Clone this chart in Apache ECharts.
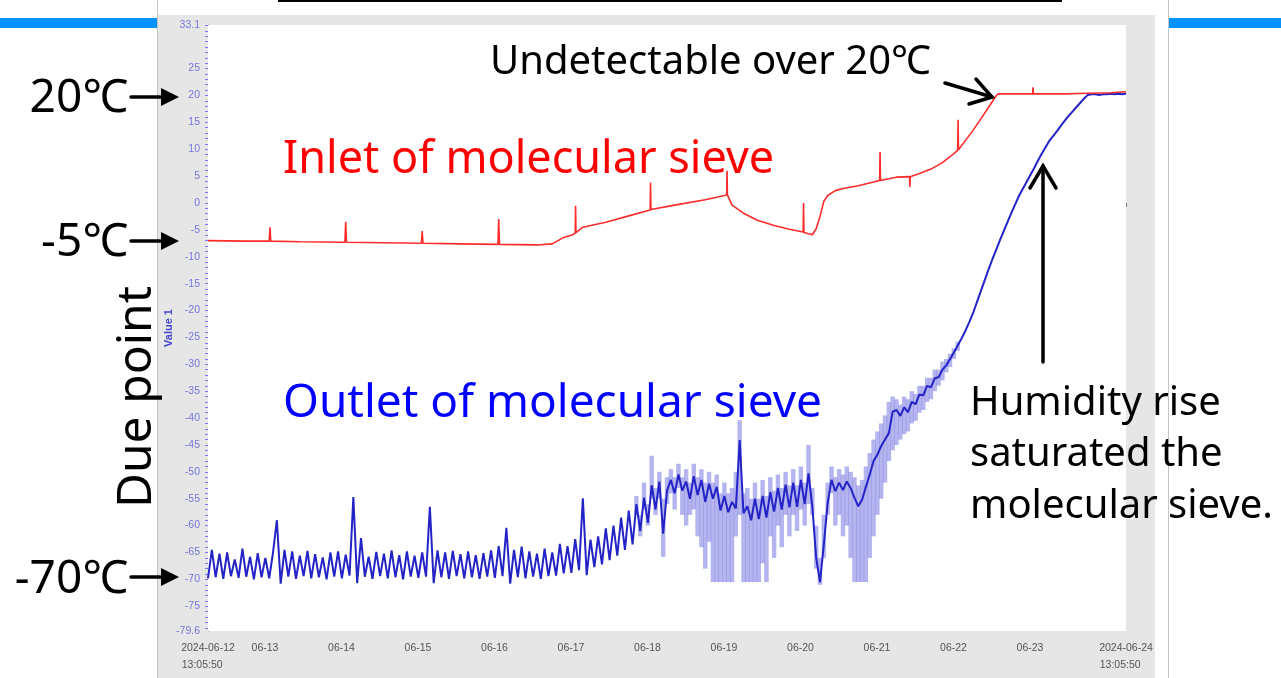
<!DOCTYPE html>
<html><head><meta charset="utf-8">
<script src="https://cdn.jsdelivr.net/npm/echarts@6.0.0/dist/echarts.min.js"></script>
<style>html,body{margin:0;padding:0;background:#fff;}#chart{width:1281px;height:678px;}</style>
</head><body><div id="chart"></div>
<script>
// ---- data (time in days since 2024-06-12 13:05:50) ----
const SAMPLE_STEP_DAYS = 0.05;
const outletValues = [
  -69.8, -64.5, -69.6, -65.2, -69.9, -65.0, -69.4, -66.3, -69.7, -64.3,
  -69.5, -65.8, -70.0, -65.1, -69.6, -66.0, -69.8, -65.0, -59.0, -70.8,
  -64.5, -69.5, -64.8, -69.9, -65.6, -69.4, -64.7, -69.8, -65.3, -69.6,
  -65.9, -70.0, -65.0, -69.5, -64.8, -69.8, -65.4, -69.3, -54.7, -70.7,
  -62.3, -69.5, -65.8, -69.9, -64.9, -69.4, -65.2, -69.8, -64.6, -69.6,
  -65.5, -70.0, -64.8, -69.5, -65.6, -69.7, -65.0, -69.5, -56.5, -70.7,
  -64.6, -69.6, -65.0, -69.9, -64.7, -69.4, -65.3, -69.8, -64.8, -69.6,
  -65.5, -69.9, -65.1, -69.5, -64.6, -69.7, -63.8, -69.4, -60.4, -70.8,
  -64.5, -69.6, -63.9, -69.8, -64.8, -69.5, -65.2, -69.9, -64.3, -69.4,
  -65.0, -69.3, -63.4, -68.9, -63.8, -68.8, -62.5, -68.3, -54.9, -69.2,
  -62.6, -67.7, -62.0, -67.2, -60.5, -66.4, -60.0, -65.6, -58.5, -64.5,
  -57.2, -63.5, -56.0, -61.0, -54.8, -59.5, -52.5, -57.0, -51.8, -61.5,
  -53.5, -51.5, -54.0, -50.5, -53.5, -51.8, -55.0, -50.8, -54.3, -51.5,
  -55.6, -52.2, -55.0, -52.8, -57.2, -54.5, -57.5, -55.6, -56.8, -44.1,
  -57.7, -56.4, -59.0, -55.0, -58.8, -54.5, -58.5, -53.8, -57.4, -53.0,
  -57.0, -52.4, -56.6, -52.0, -56.5, -51.5, -56.0, -50.3, -56.5, -66.0,
  -70.5, -63.5, -55.8, -51.5, -53.6, -52.0, -53.4, -51.8, -53.0, -54.8,
  -56.4, -55.2, -52.8, -50.5, -48.0, -46.8, -45.2, -44.0, -42.8, -38.8,
  -38.5, -39.6, -38.0, -38.9, -37.0, -37.4, -35.6, -35.8, -34.0, -34.3,
  -32.6, -32.4, -31.0, -30.2, -29.0, -27.8, -26.5, -25.2, -23.8, -22.2,
  -20.5, -18.5, -16.5, -14.5, -12.5, -10.6, -8.8, -7.0, -5.3, -3.6,
  -1.9, -0.3, 1.3, 2.6, 3.9, 5.2, 6.5, 7.9, 9.2, 10.4,
  11.6, 12.5, 13.4, 14.4, 15.3, 16.2, 17.0, 17.8, 18.6, 19.4,
  20.1, 20.2, 20.2, 20.1, 20.2, 20.2, 20.3, 20.2, 20.3, 20.2,
  20.3
];
const BAND_START_INDEX = 112;
const bandLow = [
  -58, -62, -57, -60, -55, -58, -55, -65.8, -56, -54,
  -57, -53, -58, -60, -58, -57, -62, -64, -68, -63,
  -70.5, -70.5, -70.5, -70.5, -70.5, -70.5, -62, -58, -70.5, -70.5,
  -70.5, -70.5, -70.5, -67, -70.5, -62, -66, -60, -64, -58,
  -62, -58, -61, -57, -60, -56, -58, -68, -71, -66,
  -58, -54, -60, -58, -62, -60, -66, -70.5, -70.5, -70.5,
  -70.5, -66, -62, -58, -55, -52, -48, -46, -45, -44,
  -43, -42.5, -41, -40.5, -39, -38.5, -37, -36.5, -35, -34,
  -33, -31.5, -30.5, -29, -27.5
];
const bandHigh = [
  -54.5, -58, -52, -56, -47, -53, -50, -55, -51, -49.5,
  -51, -48.5, -51, -49.5, -52, -48.5, -51, -49.5, -52, -50,
  -52, -50.5, -54, -52, -54, -53, -50, -40.4, -54, -53,
  -55, -52, -55, -51.5, -54.5, -51, -53.5, -50.5, -53, -50,
  -52.5, -49.5, -52.5, -49, -52, -45, -53, -60, -66, -58,
  -52, -49, -51, -49.5, -50.5, -49, -50, -51, -52.5, -51.5,
  -49, -46.5, -44, -42.5, -41, -39.5, -37, -36, -36.5, -37.5,
  -36, -36.5, -35, -35.5, -34, -34, -32.5, -32.5, -31, -31,
  -29.5, -29, -28, -27, -25.8
];
const inletPoints = [
  [0, -7.0], [0.5, -7.1], [0.80, -7.1], [0.81, -4.5], [0.82, -7.1],
  [1.2, -7.2], [1.79, -7.3], [1.80, -3.5], [1.81, -7.3],
  [2.3, -7.4], [2.79, -7.5], [2.80, -5.2], [2.81, -7.5],
  [3.3, -7.6], [3.79, -7.7], [3.80, -3.0], [3.81, -7.7],
  [4.3, -7.8], [4.5, -7.6], [4.65, -6.4], [4.77, -5.9], [4.80, -5.6], [4.805, -0.5], [4.81, -5.5],
  [4.9, -4.5], [5.2, -3.6], [5.5, -2.4], [5.78, -1.3], [5.785, 3.8], [5.79, -1.2],
  [6.1, -0.4], [6.5, 0.6], [6.78, 1.5], [6.785, 6.0], [6.79, 1.5],
  [6.85, -0.4], [7.0, -1.9], [7.18, -3.2], [7.4, -4.2], [7.6, -4.9], [7.78, -5.4], [7.785, 0.0], [7.79, -5.5],
  [7.9, -5.9], [7.95, -4.8], [8.0, -2.5], [8.05, 0.3], [8.1, 1.4], [8.2, 2.3], [8.3, 2.7],
  [8.5, 3.2], [8.7, 3.9], [8.78, 4.2], [8.785, 9.5], [8.79, 4.2], [8.9, 4.5], [9.0, 4.8],
  [9.17, 4.9], [9.175, 3.0], [9.18, 4.9], [9.3, 5.5], [9.45, 6.3], [9.6, 7.5], [9.7, 8.6],
  [9.8, 9.8], [9.805, 15.5], [9.81, 9.9], [9.9, 11.6], [10.0, 13.5], [10.1, 15.6], [10.2, 17.7],
  [10.3, 19.9], [10.33, 20.3], [10.5, 20.3], [10.78, 20.3], [10.785, 21.5], [10.79, 20.3],
  [11.2, 20.3], [11.5, 20.4], [11.8, 20.5], [12.0, 20.7]
];
const xLabelDays = [0, 0.745, 1.745, 2.745, 3.745, 4.745, 5.745, 6.745, 7.745, 8.745, 9.745, 10.745, 12];
const xLabelTexts = ['2024-06-12\n13:05:50    ', '06-13', '06-14', '06-15', '06-16', '06-17', '06-18',
  '06-19', '06-20', '06-21', '06-22', '06-23', '2024-06-24\n13:05:50    '];
const yLabelValues = [33.1, 25, 20, 15, 10, 5, 0, -5, -10, -15, -20, -25, -30, -35, -40, -45,
  -50, -55, -60, -65, -70, -75, -79.6];
const X_MIN = 0, X_MAX = 12, Y_MIN = -79.6, Y_MAX = 33.1;

// ---- build series data ----
const outletData = outletValues.map((v, i) => [+(i * SAMPLE_STEP_DAYS).toFixed(4), v]);
const bandData = bandLow.map((lo, k) => [+((BAND_START_INDEX + k) * SAMPLE_STEP_DAYS).toFixed(4), lo, bandHigh[k]]);

const yTicks = [];
for (let v = -79; v <= 33; v += 1) yTicks.push(v);
const xTicks = [0, 12];
for (let k = -6; k <= 110; k++) { const t = 0.745 + k / 9; if (t > 0.01 && t < 11.99) xTicks.push(+t.toFixed(4)); }

const chart = echarts.init(document.getElementById('chart'), null, {renderer: 'canvas'});
const FONT = '"Noto Sans", "DejaVu Sans", sans-serif';
const AXFONT = '"Liberation Sans", "DejaVu Sans", sans-serif';
const txt = (text, x, y, size, color, align, extra) => Object.assign({
  type: 'text', x: x, y: y, z: 100,
  style: {text: text, font: size + 'px ' + FONT, fill: color, align: align || 'left', verticalAlign: 'middle'}
}, extra || {});
const seg = (x1, y1, x2, y2) => ({type: 'line', z: 100, shape: {x1, y1, x2, y2}, style: {stroke: '#000', lineWidth: 3.5, lineCap: 'round'}});
const head = (pts) => ({type: 'polygon', z: 100, shape: {points: pts}, style: {fill: '#000'}});
const openHead = (pts) => ({type: 'polyline', z: 100, shape: {points: pts}, style: {stroke: '#000', lineWidth: 3.5, lineCap: 'round', lineJoin: 'miter', fill: null}});

chart.setOption({
  animation: false,
  backgroundColor: '#fff',
  grid: {left: 208, top: 25, right: 155, bottom: 47, show: true, backgroundColor: '#fff', borderWidth: 0, z: 1},
  xAxis: {
    type: 'value', min: X_MIN, max: X_MAX,
    splitLine: {show: false},
    axisLine: {lineStyle: {color: '#7a7a7a', width: 1}},
    axisTick: {customValues: xTicks, length: 4, lineStyle: {color: '#7a7a7a'}},
    axisLabel: {
      customValues: xLabelDays, margin: 9, color: '#555', fontSize: 10.5, lineHeight: 17,
      fontFamily: AXFONT,
      formatter: (val) => { const k = xLabelDays.findIndex(d => Math.abs(d - val) < 1e-4); return k >= 0 ? xLabelTexts[k] : ''; }
    }
  },
  yAxis: {
    type: 'value', min: Y_MIN, max: Y_MAX,
    name: 'Value 1', nameLocation: 'middle', nameGap: 34, nameMoveOverlap: false,
    nameTextStyle: {color: '#4646d2', fontSize: 11, fontWeight: 'bold', fontFamily: AXFONT},
    splitLine: {show: false},
    axisLine: {show: true, lineStyle: {color: '#6c6ce6', width: 1}},
    axisTick: {customValues: yTicks, length: 3, lineStyle: {color: '#7a7ae6'}},
    axisLabel: {
      customValues: yLabelValues, margin: 8, color: '#7676dc', fontSize: 10.5,
      fontFamily: AXFONT,
      formatter: (val) => Number.isInteger(val) ? String(val) : val.toFixed(1)
    }
  },
  series: [
    {
      type: 'custom', name: 'Outlet range', z: 2, clip: true,
      encode: {x: 0, y: [1, 2]},
      data: bandData,
      renderItem: (params, api) => {
        const x = api.value(0), lo = api.value(1), hi = api.value(2);
        const top = api.coord([x, hi]), bot = api.coord([x, lo]);
        const w = api.size([SAMPLE_STEP_DAYS, 0])[0] + 0.6;
        return {type: 'rect', shape: {x: top[0] - w / 2, y: top[1], width: w, height: bot[1] - top[1]},
          style: {fill: 'rgba(125,125,228,0.58)'}};
      }
    },
    {
      type: 'line', name: 'Outlet of molecular sieve', data: outletData, z: 3,
      showSymbol: false, sampling: null, lineStyle: {color: '#2323c6', width: 2}, itemStyle: {color: '#2323c6'}
    },
    {
      type: 'line', name: 'Inlet of molecular sieve', data: inletPoints, z: 4,
      showSymbol: false, lineStyle: {color: '#ff2b2b', width: 1.6}, itemStyle: {color: '#ff2b2b'}
    }
  ],
  graphic: [
    {type: 'rect', z: -10, shape: {x: 158, y: 15, width: 997, height: 663}, style: {fill: '#e6e6e6'}},
    {type: 'line', z: -9, shape: {x1: 157.5, y1: 0, x2: 157.5, y2: 678}, style: {stroke: '#c4c4c4', lineWidth: 1}},
    {type: 'line', z: -9, shape: {x1: 1168.5, y1: 0, x2: 1168.5, y2: 678}, style: {stroke: '#c4c4c4', lineWidth: 1}},
    {type: 'rect', z: -9, shape: {x: 0, y: 18, width: 157, height: 10}, style: {fill: '#0092ff'}},
    {type: 'rect', z: -9, shape: {x: 1169, y: 18, width: 112, height: 10}, style: {fill: '#0092ff'}},
    {type: 'rect', z: -9, shape: {x: 278, y: 0, width: 784, height: 2}, style: {fill: '#000'}},

    txt('Undetectable over 20℃', 490, 63, 40, '#000'),
    txt('Inlet of molecular sieve', 283, 160, 45, '#ff0000'),
    txt('Outlet of molecular sieve', 283, 404, 46, '#0000ff'),
    txt('Humidity rise', 970, 404, 40, '#000'),
    txt('saturated the', 970, 455, 40, '#000'),
    txt('molecular sieve.', 970, 507, 40, '#000'),
    txt('20℃', 128, 99, 46, '#000', 'right'),
    txt('-5℃', 128, 243, 46, '#000', 'right'),
    txt('-70℃', 128, 580, 46, '#000', 'right'),
    txt('Due point', 137, 397, 48, '#000', 'center', {rotation: Math.PI / 2}),

    seg(131, 97, 164, 97), head([[179, 97], [161, 88], [161, 106]]),
    seg(131, 241, 164, 241), head([[179, 241], [161, 232], [161, 250]]),
    seg(131, 577, 164, 577), head([[179, 577], [161, 568], [161, 586]]),
    seg(945, 83, 992, 97), openHead([[976, 79], [992, 97], [969, 104]]),
    seg(1043, 362, 1043, 166), openHead([[1030, 188], [1043, 166], [1056, 188]])
  ]
});
</script>
</body></html>
